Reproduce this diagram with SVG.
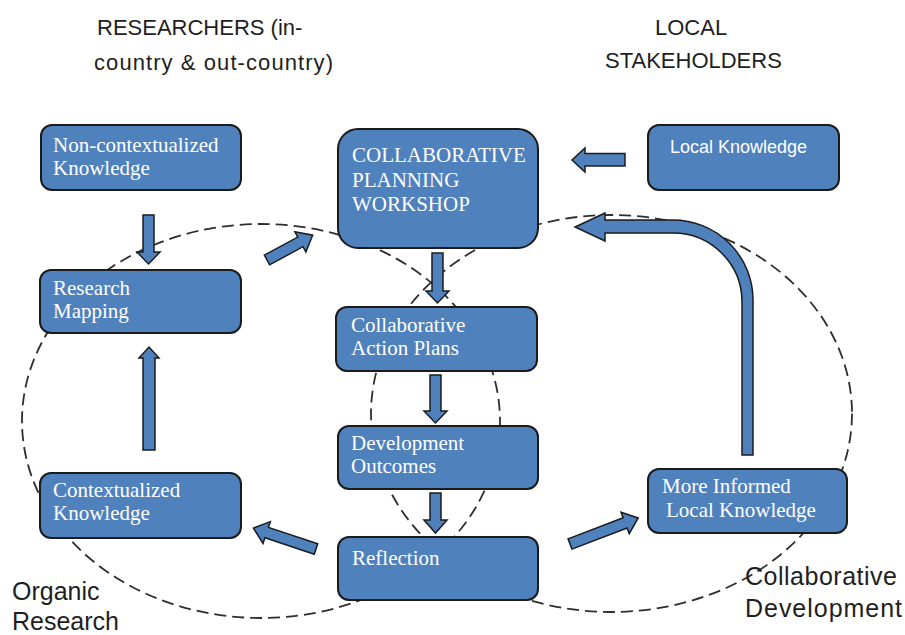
<svg xmlns="http://www.w3.org/2000/svg" width="905" height="635" viewBox="0 0 905 635">
<style>
.bg{fill:#ffffff}
.box{fill:#4f81bd;stroke:#1b1b1b;stroke-width:2}
.arr{fill:#4f81bd;stroke:#1b1b1b;stroke-width:1.5;stroke-linejoin:miter}
.reg{fill:none;stroke:#2e2e2e;stroke-width:1.8;stroke-dasharray:12 6}
.t{font-family:"Liberation Serif","Times New Roman",serif;font-size:21px;fill:#ffffff}
.ts{font-family:"Liberation Sans",Arial,sans-serif;font-size:18px;fill:#ffffff}
.h{font-family:"Liberation Sans",Arial,sans-serif;font-size:22px;fill:#1e1e1e}
.lab{font-family:"Liberation Sans",Arial,sans-serif;font-size:25px;fill:#1e1e1e}
</style>
<rect class="bg" x="0" y="0" width="905" height="635"/>

<g id="regions">
<ellipse class="reg" cx="261" cy="421" rx="239" ry="197"/>
<ellipse class="reg" cx="611.5" cy="413.5" rx="240.5" ry="198.5"/>
</g>

<g id="headers">
<text class="h" x="97" y="35">RESEARCHERS (in-</text>
<text class="h" x="94" y="70" textLength="239" lengthAdjust="spacing">country &amp; out-country)</text>
<text class="h" x="655" y="35">LOCAL</text>
<text class="h" x="605" y="68">STAKEHOLDERS</text>
<text class="lab" x="12" y="600">Organic</text>
<text class="lab" x="12" y="630">Research</text>
<text class="lab" x="745" y="585" textLength="152" lengthAdjust="spacing">Collaborative</text>
<text class="lab" x="745" y="617" textLength="157" lengthAdjust="spacing">Development</text>
</g>

<g id="connectors">
<polygon class="arr" points="143,215 154,215 154,252 160,252 148.5,264 137,252 143,252"/>
<polygon class="arr" points="143,450 155,450 155,358 159,358 149,347 139,358 143,358"/>
<polygon class="arr" points="432,253 443,253 443,291 449,291 437.5,303 426,291 432,291"/>
<polygon class="arr" points="430,375 441,375 441,411 447,411 435.5,423 424,411 430,411"/>
<polygon class="arr" points="430,493 441,493 441,520 447,520 435.5,533 424,520 430,520"/>
<polygon class="arr" points="625,153.5 625,166 585,166 585,172 572,160 585,148 585,153.5"/>
<g transform="translate(267,260) rotate(-28.5)">
<polygon class="arr" points="0,-5.5 38,-5.5 38,-11.5 52,0 38,11.5 38,5.5 0,5.5"/>
</g>
<g transform="translate(316,549) rotate(-161.6)">
<polygon class="arr" points="0,-5.5 52,-5.5 52,-11.5 66,0 52,11.5 52,5.5 0,5.5"/>
</g>
<g transform="translate(570,544) rotate(-20.9)">
<polygon class="arr" points="0,-5.5 59,-5.5 59,-11.5 73,0 59,11.5 59,5.5 0,5.5"/>
</g>
<path class="arr" d="M753,455 L753,300 A80,80 0 0 0 673,220 L605,220 L605,213 L575,227 L605,241 L605,233 L673,233 A69,69 0 0 1 742,302 L742,455 Z"/>
</g>

<g id="non-contextualized">
<rect class="box" x="41" y="125" width="200" height="65" rx="11"/>
<text class="t" x="53" y="152">Non-contextualized</text>
<text class="t" x="53" y="175">Knowledge</text>
</g>
<g id="research-mapping">
<rect class="box" x="40" y="270" width="201" height="63" rx="11"/>
<text class="t" x="53" y="295">Research</text>
<text class="t" x="53" y="318">Mapping</text>
</g>
<g id="contextualized">
<rect class="box" x="40" y="473" width="201" height="65" rx="11"/>
<text class="t" x="53" y="497">Contextualized</text>
<text class="t" x="53" y="520">Knowledge</text>
</g>
<g id="planning-workshop">
<rect class="box" x="338" y="129" width="200" height="119" rx="20"/>
<text class="t" x="352" y="162">COLLABORATIVE</text>
<text class="t" x="352" y="187">PLANNING</text>
<text class="t" x="352" y="211">WORKSHOP</text>
</g>
<g id="action-plans">
<rect class="box" x="336" y="307" width="201" height="64" rx="11"/>
<text class="t" x="351" y="332">Collaborative</text>
<text class="t" x="351" y="355">Action Plans</text>
</g>
<g id="development-outcomes">
<rect class="box" x="338" y="426" width="200" height="63" rx="11"/>
<text class="t" x="351" y="450">Development</text>
<text class="t" x="351" y="473">Outcomes</text>
</g>
<g id="reflection">
<rect class="box" x="338" y="537" width="200" height="63" rx="11"/>
<text class="t" x="352" y="565">Reflection</text>
</g>
<g id="local-knowledge">
<rect class="box" x="648" y="125" width="191" height="65" rx="11"/>
<text class="ts" x="670" y="153">Local Knowledge</text>
</g>
<g id="more-informed">
<rect class="box" x="648" y="469" width="199" height="64" rx="11"/>
<text class="t" x="662" y="493">More Informed</text>
<text class="t" x="666" y="517">Local Knowledge</text>
</g>
</svg>
